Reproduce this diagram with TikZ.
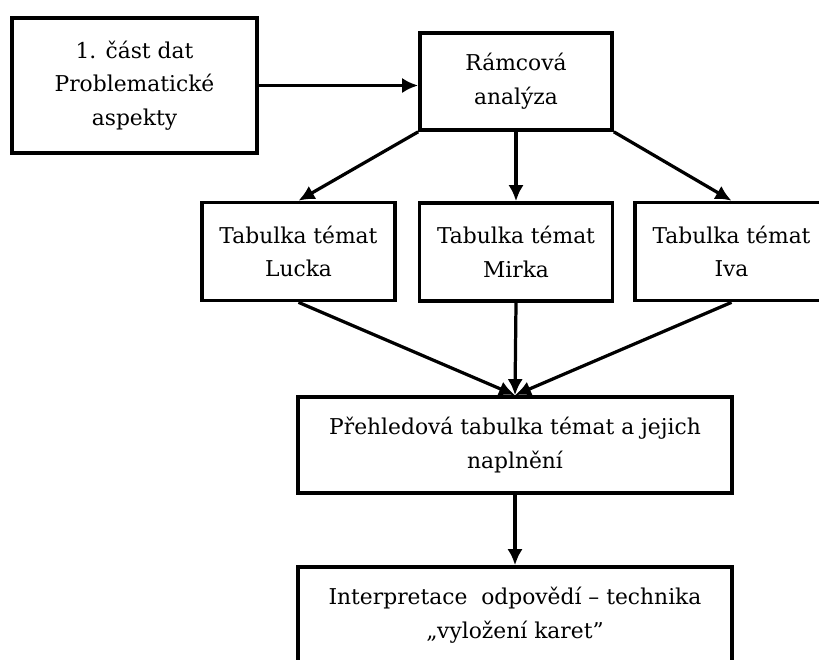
\documentclass[tikz,border=0pt]{standalone}
\usepackage{fontspec}
\setmainfont{DejaVu Serif}
\usetikzlibrary{arrows.meta}

\begin{document}
\begin{tikzpicture}[x=0.025cm,y=-0.025cm]
	\tikzset{krok/.style={draw,line width=2.6pt,align=center,inner sep=0pt,
			font=\fontsize{15.5}{24}\selectfont}}
	\tikzset{tabulka/.style={krok,minimum width=4.825cm,minimum height=2.45cm}}
	\tikzset{sipka/.style={line width=2.3pt,-{Latex[length=4mm,width=3.8mm]}}}
	\fill[white] (0,0) rectangle (819,659);
	\useasboundingbox (0,0) rectangle (819,659);

	% horni rada
	\node[krok,line width=3.3pt,minimum width=6.125cm,minimum height=3.375cm] (data) at (134.5,85.5)
		{1. část dat\\Problematické\\aspekty};
	\node[krok,minimum width=4.8cm,minimum height=2.425cm] (ramec) at (516,81.5)
		{Rámcová\\analýza};

	% tabulky temat
	\node[tabulka] (lucka) at (298.5,251.5) {Tabulka témat\\Lucka};
	\node[tabulka] (mirka) at (516,252) {Tabulka témat\\Mirka};
	\node[tabulka] (iva) at (731.5,251.5) {Tabulka témat\\Iva};

	% spodni cast
	\node[krok,minimum width=10.85cm,minimum height=2.4cm] (prehled) at (515,445)
		{Přehledová tabulka témat a jejich\\naplnění};
	\node[krok,minimum width=10.85cm,minimum height=2.4cm] (interp) at (515,615)
		{Interpretace\ \ odpovědí – technika\\„vyložení karet"};

	\draw[sipka] (data.east) -- (data.east -| ramec.west);
	\draw[sipka] (ramec.south west) -- (lucka.north);
	\draw[sipka] (ramec.south) -- (mirka.north);
	\draw[sipka] (ramec.south east) -- (iva.north);

	\draw[sipka] (lucka.south) -- (prehled.north);
	\draw[sipka] (mirka.south) -- (prehled.north);
	\draw[sipka] (iva.south) -- (prehled.north);
	\draw[sipka] (prehled.south) -- (interp.north);
\end{tikzpicture}
\end{document}
